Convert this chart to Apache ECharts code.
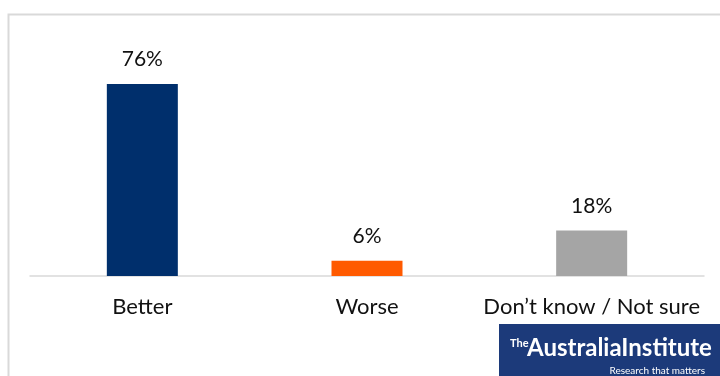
<!DOCTYPE html>
<html><head><meta charset="utf-8">
<script src="https://cdn.jsdelivr.net/npm/echarts@6/dist/echarts.min.js"></script>
<style>html,body{margin:0;padding:0;background:#fff}#c{width:720px;height:376px}</style>
</head><body><div id="c"></div>
<script>
const categories = ['Better', 'Worse', 'Don\u2019t know / Not sure'];
const values = [76, 6, 18];
const barColors = ['#002f6c', '#ff5a00', '#a5a5a5'];

const chart = echarts.init(document.getElementById('c'), null, {renderer: 'canvas'});
chart.setOption({
  animation: false,
  backgroundColor: '#fff',
  grid: {left: 30, right: 16, top: 23.4, bottom: 100},
  xAxis: {
    type: 'category', data: categories,
    axisLine: {lineStyle: {color: '#d9d9d9', width: 1.5}},
    axisTick: {show: false},
    axisLabel: {fontFamily: 'Lato', fontSize: 22, color: '#111', margin: 20, interval: 0}
  },
  yAxis: {type: 'value', min: 0, max: 100, show: false, splitLine: {show: false}},
  series: [{
    type: 'bar', barWidth: 71,
    data: values.map((v, i) => ({value: v, itemStyle: {color: barColors[i]}})),
    label: {show: true, position: 'top', distance: 14, formatter: '{c}%',
      fontFamily: 'Lato', fontSize: 21, color: '#111'}
  }],
  graphic: [
    {type: 'polyline', shape: {points: [[8.5, 376], [8.5, 14.5], [720, 14.5]]},
      style: {stroke: '#d9d9d9', lineWidth: 2, fill: null}, silent: true},
    {type: 'rect', shape: {x: 499, y: 324, width: 221, height: 52}, style: {fill: '#1c3a7a'}},
    {type: 'text', x: 510, y: 338, style: {text: 'The', fill: '#fff', font: 'bold 11px "Liberation Sans Narrow", Lato', textVerticalAlign: 'top'}},
    {type: 'text', x: 527, y: 336, style: {text: 'AustraliaInstitute', fill: '#fff', font: 'bold 24px "Liberation Sans Narrow", Lato', textVerticalAlign: 'top'}},
    {type: 'text', x: 705, y: 366, style: {text: 'Research that matters', fill: '#fff', font: '10px "Liberation Sans Narrow", Lato', textAlign: 'right', textVerticalAlign: 'top'}}
  ]
});
</script></body></html>
